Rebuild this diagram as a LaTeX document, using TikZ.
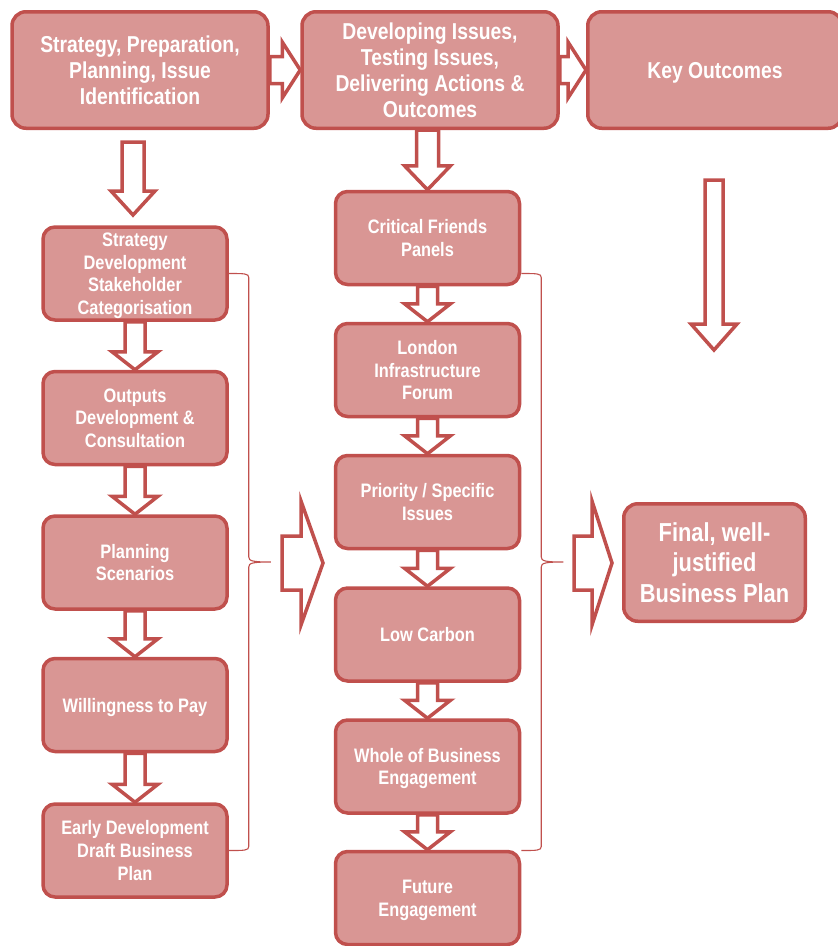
\documentclass[tikz,border=0pt]{standalone}
\usepackage{fontspec}
\setmainfont{Liberation Sans}[FakeStretch=0.84]
\usetikzlibrary{calc}
\definecolor{boxfill}{RGB}{217,150,148}
\definecolor{boxline}{RGB}{192,80,77}
\tikzset{
  box/.style={draw=boxline, fill=boxfill, line width=3.5pt, rounded corners=14pt,
    text=white, align=center, inner sep=0pt, text depth=-4pt},
  topbox/.style={box, minimum width=256pt, minimum height=116.5pt,
    font=\fontsize{23}{26}\selectfont\bfseries},
  colbox/.style={box, minimum width=184pt, minimum height=93pt, rounded corners=12pt,
    font=\fontsize{19.5}{22.6}\selectfont\bfseries},
  endbox/.style={box, minimum width=181.5pt, minimum height=117.5pt,
    font=\fontsize{26}{30.5}\selectfont\bfseries},
  hollow/.style={draw=boxline, fill=white, line width=3.5pt},
  blockdown/.style args={#1/#2/#3}{to path={let \p1=(\tikztostart), \p2=(\tikztotarget) in
    (\x1-#1,\y1) -- (\x1-#1,\y2+#3) -- (\x1-#2,\y2+#3) -- (\x1,\y2)
    -- (\x1+#2,\y2+#3) -- (\x1+#1,\y2+#3) -- (\x1+#1,\y1) -- cycle}},
  blockright/.style args={#1/#2/#3}{to path={let \p1=(\tikztostart), \p2=(\tikztotarget) in
    (\x1,\y1+#1) -- (\x2-#3,\y1+#1) -- (\x2-#3,\y1+#2) -- (\x2,\y1)
    -- (\x2-#3,\y1-#2) -- (\x2-#3,\y1-#1) -- (\x1,\y1-#1) -- cycle}},
  bracket/.style={draw=boxline, line width=1.1pt, to path={let \p1=(\tikztostart), \p2=(\tikztotarget),
    \p3=($(\tikztostart)!0.5!(\tikztotarget)$) in
    (\p1) .. controls (\x1+16pt,\y1) and (\x1+20pt,\y1) .. (\x1+20pt,\y1-4pt)
    -- (\x1+20pt,\y3+5pt) .. controls (\x1+20pt,\y3+1pt) and (\x1+24pt,\y3) .. (\x1+42pt,\y3)
    .. controls (\x1+24pt,\y3) and (\x1+20pt,\y3-1pt) .. (\x1+20pt,\y3-5pt)
    -- (\x1+20pt,\y2+4pt) .. controls (\x1+20pt,\y2) and (\x1+16pt,\y2) .. (\p2)}}
}
\begin{document}
\begin{tikzpicture}[x=1pt,y=-1pt]
  \useasboundingbox (0,0) rectangle (838,946);
  \path
    (140,70) node[topbox] (a){Strategy, Preparation,\\Planning, Issue\\Identification}
    (430,70) node[topbox] (b){Developing Issues,\\Testing Issues,\\Delivering Actions \&\\Outcomes}
    (715,70) node[topbox, minimum width=254.5pt] (c){Key Outcomes}
    (135,273.5) node[colbox] (l1){Strategy\\Development\\Stakeholder\\Categorisation}
    (135,418) node[colbox] (l2){Outputs\\Development \&\\Consultation}
    (135,562.5) node[colbox] (l3){Planning\\Scenarios}
    (135,705) node[colbox] (l4){Willingness to Pay}
    (135,850.5) node[colbox] (l5){Early Development\\Draft Business\\Plan}
    (427.5,238) node[colbox] (m1){Critical Friends\\Panels}
    (427.5,370) node[colbox] (m2){London\\Infrastructure\\Forum}
    (427.5,502) node[colbox] (m3){Priority / Specific\\Issues}
    (427.5,634.5) node[colbox] (m4){Low Carbon}
    (427.5,766.5) node[colbox] (m5){Whole of Business\\Engagement}
    (427.5,898) node[colbox] (m6){Future\\Engagement}
    (714.5,562.5) node[endbox] (fin){Final, well-\\justified\\Business Plan};
  \coordinate (at) at (133,142);
  \coordinate (ab) at (133,215);
  \coordinate (kt) at (714,180);
  \coordinate (kb) at (714,350);
  \coordinate (lt) at (282,563);
  \coordinate (lh) at (323,563);
  \coordinate (mt) at (574,563);
  \coordinate (mh) at (612,563);
  \begin{scope}[hollow]
    \draw[blockright=13.5pt/28pt/18pt] (a.east) to (b.west);
    \draw[blockright=13.5pt/28pt/18pt] (b.east) to (c.west);
    \draw[blockdown=11pt/22pt/24pt] (at) to (ab);
    \draw[blockdown=11pt/23pt/24pt] (b.south -| m1.north) to (m1.north);
    \draw[blockdown=9pt/23pt/26pt] (kt) to (kb);
    \draw[blockdown=10pt/23pt/18pt] (l1.south) to (l2.north);
    \draw[blockdown=10pt/23pt/18pt] (l2.south) to (l3.north);
    \draw[blockdown=10pt/23pt/18pt] (l3.south) to (l4.north);
    \draw[blockdown=10pt/23pt/18pt] (l4.south) to (l5.north);
    \draw[blockdown=10pt/23pt/18pt] (m1.south) to (m2.north);
    \draw[blockdown=10pt/23pt/18pt] (m2.south) to (m3.north);
    \draw[blockdown=10pt/23pt/18pt] (m3.south) to (m4.north);
    \draw[blockdown=10pt/23pt/18pt] (m4.south) to (m5.north);
    \draw[blockdown=10pt/23pt/18pt] (m5.south) to (m6.north);
    \draw[blockright=27pt/62pt/22pt] (lt) to (lh);
    \draw[blockright=27pt/62pt/20pt] (mt) to (mh);
  \end{scope}
  \draw[bracket] (l1.east) to (l5.east);
  \draw[bracket] (m1.east |- l1.east) to (m1.east |- l5.east);
\end{tikzpicture}
\end{document}
